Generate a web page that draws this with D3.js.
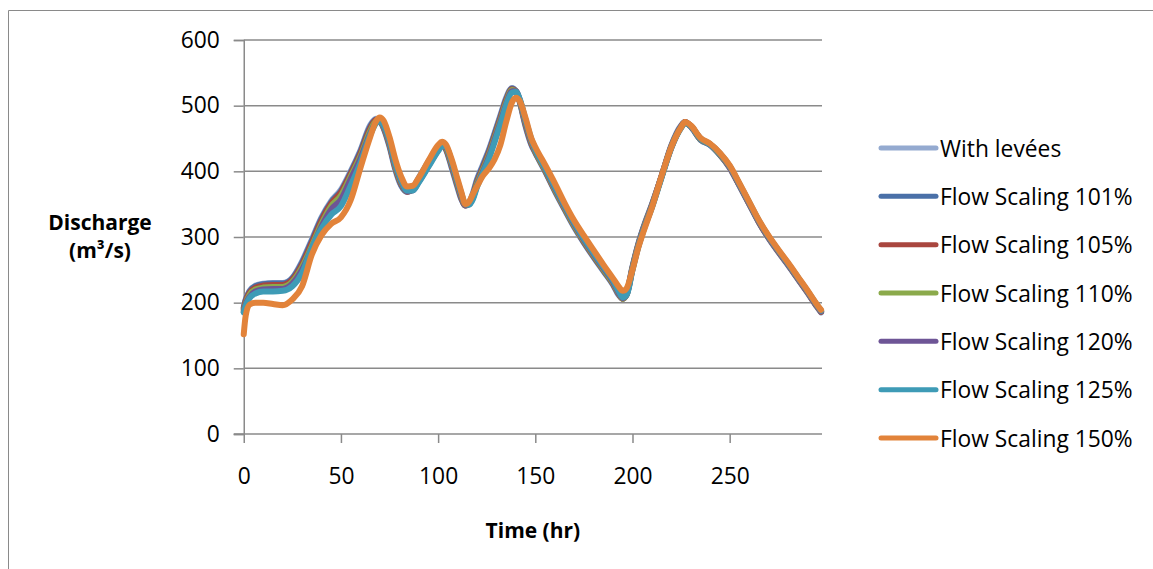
<!DOCTYPE html>
<html>
<head>
<meta charset="utf-8">
<script src="https://cdn.jsdelivr.net/npm/d3@7"></script>
<style>
  html, body { margin: 0; padding: 0; background: #fff; }
  svg { display: block; }
  text { font-family: "Open Sans", "Noto Sans", sans-serif; fill: #000; }
</style>
</head>
<body>
<svg id="chart" width="1153" height="569"></svg>
<script>
// ---------------- DATA ----------------
const times = [0,1,3,6,10,15,20,25,30,35,40,45,50,55,60,65,68,70,72,75,78,81,84,87,90,95,100,102,104,107,110,112,114,116,118,120,123,126,129,132,135,138,140,142,145,148,150,155,160,165,170,175,180,185,190,193,195,197,200,203,206,210,215,220,225,227,230,235,240,245,250,255,260,265,270,275,280,285,290,295,297];

const withLevees = [193,205,218,226,229,230,230,238,263,296,330,355,372,400,432,470,480,477,465,437,402,378,369,375,390,415,437,440,433,405,375,357,348,353,368,388,410,432,458,485,512,527,522,505,468,440,428,400,370,342,315,291,269,248,227,211,206,215,255,290,318,350,393,440,470,475,468,448,440,425,405,378,350,322,298,277,257,236,215,193,185];
const scaling101 = [192,204,217,225,228,229,229,237,261,294,328,353,370,398,430,468,479,477,466,439,404,379,369,374,389,414,436,440,434,407,377,358,348,352,366,386,408,430,456,483,510,526,522,506,470,441,429,401,371,343,316,292,270,249,228,212,206,214,254,289,317,349,393,439,469,475,468,448,440,425,406,379,351,323,299,278,258,237,216,194,186];
const scaling105 = [190,202,215,223,226,227,227,235,258,291,325,351,368,396,427,465,478,477,467,441,406,381,369,373,387,412,435,440,435,409,379,360,348,351,364,383,405,427,453,480,508,525,522,507,472,443,430,402,372,344,317,293,271,250,229,213,206,213,253,288,316,348,393,438,468,475,469,449,441,426,406,379,351,323,299,278,258,237,216,194,186];
const scaling110 = [188,199,212,220,223,224,224,232,254,286,320,347,363,392,423,461,476,477,468,443,408,383,370,372,386,410,434,440,436,411,381,362,349,350,362,381,402,424,450,477,505,524,522,508,474,445,431,403,373,345,318,294,272,251,230,214,206,212,252,287,315,347,392,437,467,474,469,449,441,426,407,380,352,324,300,279,259,238,217,195,187];
const scaling120 = [186,197,209,217,220,221,221,229,250,282,316,342,357,388,419,457,474,477,469,445,410,385,370,371,384,408,432,439,437,413,383,364,349,350,360,378,399,421,447,474,502,522,522,509,476,447,433,405,375,347,320,296,274,253,232,215,207,212,251,286,314,346,392,436,467,474,469,450,441,427,407,380,352,324,300,279,259,238,217,195,187];
const scaling125 = [185,195,207,214,217,217,218,225,245,283,313,334,347,378,413,455,473,477,470,447,412,387,371,371,383,407,431,439,438,415,385,366,350,349,358,376,397,418,444,471,500,520,521,510,478,449,434,406,377,349,322,298,276,255,234,217,208,212,250,285,313,345,391,436,466,474,469,450,441,427,408,381,353,325,301,280,260,239,218,196,188];
const scaling150 = [152,180,197,200,200,198,196,205,225,273,303,320,330,356,405,452,476,482,477,452,418,392,377,378,390,416,440,445,441,418,388,368,350,354,366,377,393,404,418,440,475,505,512,507,481,450,437,410,382,352,325,302,280,258,237,224,218,222,250,284,311,345,393,437,467,475,470,451,442,428,409,382,354,326,302,281,261,240,219,197,189];

const seriesNames = ["With levées","Flow Scaling 101%","Flow Scaling 105%","Flow Scaling 110%","Flow Scaling 120%","Flow Scaling 125%","Flow Scaling 150%"];
const seriesValues = [withLevees, scaling101, scaling105, scaling110, scaling120, scaling125, scaling150];
const seriesColors = ["#94AAD0","#4A70A8","#A9463F","#8BAA4B","#6E5596","#3E9BB6","#E2833A"];

const yTicks = [0,100,200,300,400,500,600];
const xTicks = [0,50,100,150,200,250];
const xTitle = "Time (hr)";
const yTitleLines = ["Discharge","(m³/s)"];

// ---------------- LAYOUT ----------------
const svg = d3.select("#chart");
const plot = {left: 243.75, right: 822, top: 40, bottom: 434};
const fontSize = 22.8;
const gridColor = "#8a8a8a";

const x = d3.scaleLinear().domain([0, 297.5]).range([plot.left, plot.right]);
const y = d3.scaleLinear().domain([0, 600]).range([plot.bottom, plot.top]);

// chart outer border
svg.append("path")
  .attr("d", "M8.5,569 L8.5,10.5 L1153,10.5")
  .attr("fill", "none").attr("stroke", gridColor).attr("stroke-width", 1);

// gridlines (horizontal)
svg.append("g").selectAll("line").data(yTicks.filter(d => d > 0)).join("line")
  .attr("x1", plot.left).attr("x2", plot.right)
  .attr("y1", d => y(d)).attr("y2", d => y(d))
  .attr("stroke", gridColor).attr("stroke-width", 1.5);

// y axis
const yAxis = d3.axisLeft(y).tickValues(yTicks).tickSize(10).tickPadding(14).tickFormat(d3.format("d"));
const gy = svg.append("g").attr("transform", `translate(${plot.left},0)`).call(yAxis);
gy.select(".domain").attr("stroke", gridColor).attr("stroke-width", 1.5);
gy.selectAll(".tick line").attr("stroke", gridColor).attr("stroke-width", 1.5);
gy.selectAll(".tick text").style("font-size", fontSize + "px").style("font-family", "'Open Sans', sans-serif").attr("fill", "#000");

// x axis
const xAxis = d3.axisBottom(x).tickValues(xTicks).tickSize(9).tickPadding(25).tickFormat(d3.format("d")).tickSizeOuter(0);
const gx = svg.append("g").attr("transform", `translate(0,${plot.bottom})`).call(xAxis);
gx.select(".domain").attr("stroke", gridColor).attr("stroke-width", 1.5)
  .attr("d", `M${plot.left - 10},0H${plot.right}`);
gx.selectAll(".tick line").attr("stroke", gridColor).attr("stroke-width", 1.5);
gx.selectAll(".tick text").style("font-size", fontSize + "px").style("font-family", "'Open Sans', sans-serif").attr("fill", "#000");

// axis titles
svg.append("text").attr("x", (plot.left + plot.right) / 2).attr("y", 530)
  .attr("text-anchor", "middle").attr("dominant-baseline", "central")
  .style("font-size", "21px").style("font-weight", "bold").text(xTitle);
svg.append("text").attr("x", 100).attr("y", 222)
  .attr("text-anchor", "middle").attr("dominant-baseline", "central")
  .style("font-size", "21px").style("font-weight", "bold").text(yTitleLines[0]);
svg.append("text").attr("x", 100).attr("y", 250)
  .attr("text-anchor", "middle").attr("dominant-baseline", "central")
  .style("font-size", "21px").style("font-weight", "bold").text(yTitleLines[1]);

// series lines
const line = d3.line().x((d, i) => x(times[i])).y(d => y(d)).curve(d3.curveMonotoneX);
svg.append("g").selectAll("path").data(seriesValues).join("path")
  .attr("d", d => line(d))
  .attr("fill", "none")
  .attr("stroke", (d, i) => seriesColors[i])
  .attr("stroke-width", 6)
  .attr("stroke-linejoin", "round").attr("stroke-linecap", "round");

// legend
const legendY = d3.scalePoint().domain(seriesNames).range([148, 438]);
const lg = svg.append("g").selectAll("g").data(seriesNames).join("g")
  .attr("transform", d => `translate(0,${legendY(d)})`);
lg.append("line").attr("x1", 881).attr("x2", 936).attr("y1", 0).attr("y2", 0)
  .attr("stroke", (d, i) => seriesColors[i]).attr("stroke-width", 5).attr("stroke-linecap", "round");
lg.append("text").attr("x", 940).attr("y", 0).attr("dominant-baseline", "central")
  .style("font-size", fontSize + "px").text(d => d);
</script>
</body>
</html>
